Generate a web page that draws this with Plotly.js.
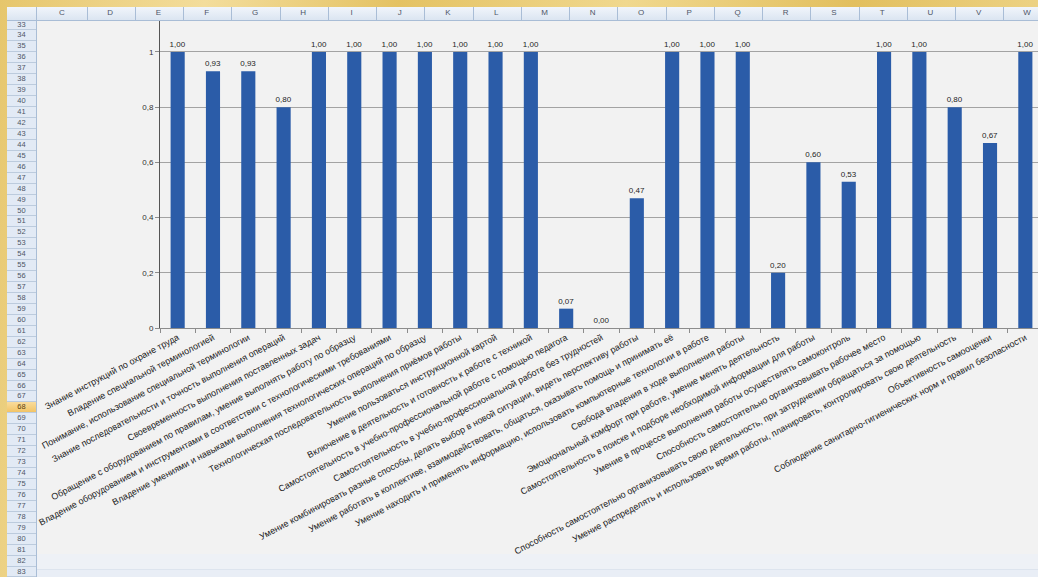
<!DOCTYPE html>
<html>
<head>
<meta charset="utf-8">
<script src="https://cdn.plot.ly/plotly-3.0.1.min.js"></script>
<style>
  html, body { margin:0; padding:0; width:1038px; height:577px; overflow:hidden; }
  body { position:relative; font-family:"Liberation Sans", Arial, sans-serif;
    background: linear-gradient(100deg, #e6c66c 0%, #f3dd9c 18%, #e4c263 35%, #f0d88e 55%, #e2bf5e 75%, #f2dc98 100%); }
  #chartbg { position:absolute; left:37px; top:21px; width:1001px; height:533px; background:#f2f2f2; z-index:0; }
  #cellsbg { position:absolute; left:37px; top:554px; width:1001px; height:23px; background:#eef1f6; z-index:0; }
  #cellsbg2 { position:absolute; left:37px; top:569px; width:1001px; height:8px; background:#e9eef6; border-top:1px solid #dde4ee; z-index:0; }
  #plot { position:absolute; left:37px; top:21px; width:1020px; height:600px; z-index:1; }
  #colhdr { position:absolute; left:7px; top:7px; width:1031px; height:14px; z-index:3;
    background: linear-gradient(#f1f5fb, #dbe5f1); border-bottom:1px solid #a9bdd6; box-sizing:border-box; }
  #rowhdr { position:absolute; left:7px; top:21px; width:30px; height:556px; z-index:3;
    background:#e2eaf5; border-right:1px solid #a9bdd6; box-sizing:border-box; }
  .colsep { position:absolute; top:0; width:1px; height:13px; background:#a9bdd6; }
  .collbl { position:absolute; top:1px; width:40px; margin-left:-20px; text-align:center; font-size:8px; color:#4e5566; }
  .rowcell { position:absolute; left:0; width:29px; height:10px; border-bottom:1px solid #bccbdd; box-sizing:border-box;
    font-size:7.5px; line-height:10px; text-align:center; color:#4e5566; }
  .rowsel { background:linear-gradient(#f9dc9c, #f2c466); color:#5a4210; }
</style>
</head>
<body>
<div id="chartbg"></div>
<div id="cellsbg"></div>
<div id="cellsbg2"></div>
<div id="plot"></div>
<div id="colhdr"></div>
<div id="rowhdr"></div>
<script>
// ---- chart data ----
const categories = [
  "Знание инструкций по охране труда",
  "Владение специальной терминологией",
  "Понимание, использование специальной терминологии",
  "Знание последовательности и точность выполнения операций",
  "Своевременность выполнения поставленных задач",
  "Обращение с оборудованием по правилам, умение выполнять работу по образцу",
  "Владение оборудованием и инструментами в соответствии с технологическими требованиями",
  "Владение умениями и навыками выполнения технологических операций по образцу",
  "Технологическая последовательность выполнения приёмов работы",
  "Умение пользоваться инструкционной картой",
  "Включение в деятельность и готовность к работе с техникой",
  "Самостоятельность в учебно-профессиональной работе с помощью педагога",
  "Самостоятельность в учебно-профессиональной работе без трудностей",
  "Умение комбинировать разные способы, делать выбор в новой ситуации, видеть перспективу работы",
  "Умение работать в коллективе, взаимодействовать, общаться, оказывать помощь и принимать её",
  "Умение находить и применять информацию, использовать компьютерные технологии в работе",
  "Свобода владения в ходе выполнения работы",
  "Эмоциональный комфорт при работе, умение менять деятельность",
  "Самостоятельность в поиске и подборе необходимой информации для работы",
  "Умение в процессе выполнения работы осуществлять самоконтроль",
  "Способность самостоятельно организовывать рабочее место",
  "Способность самостоятельно организовывать свою деятельность, при затруднении обращаться за помощью",
  "Умение распределять и использовать время работы, планировать, контролировать свою деятельность",
  "Объективность самооценки",
  "Соблюдение санитарно-гигиенических норм и правил безопасности"
];
const values = [1.00, 0.93, 0.93, 0.80, 1.00, 1.00, 1.00, 1.00, 1.00, 1.00, 1.00,
                0.07, 0.00, 0.47, 1.00, 1.00, 1.00, 0.20, 0.60, 0.53, 1.00, 1.00,
                0.80, 0.67, 1.00];
const yTicks = [0, 0.2, 0.4, 0.6, 0.8, 1];

// ---- spreadsheet frame (decoration) ----
const colLetters = ["C","D","E","F","G","H","I","J","K","L","M","N","O","P","Q","R","S","T","U","V","W"];
const rowNumbers = [];
for (let r = 33; r <= 83; r++) rowNumbers.push(r);

const colhdr = document.getElementById('colhdr');
colLetters.forEach(function(c, k) {
  const center = 62 + 48.25 * k - 7;
  const l = document.createElement('div');
  l.className = 'collbl'; l.style.left = center + 'px'; l.textContent = c;
  colhdr.appendChild(l);
  const s = document.createElement('div');
  s.className = 'colsep'; s.style.left = (center + 24.5) + 'px';
  colhdr.appendChild(s);
});
const cs = document.createElement('div');
cs.className = 'colsep'; cs.style.left = '29px'; colhdr.appendChild(cs);

const rowhdr = document.getElementById('rowhdr');
rowNumbers.forEach(function(r, i) {
  const d = document.createElement('div');
  d.className = 'rowcell' + (r === 68 ? ' rowsel' : '');
  d.style.top = (25 + i * 10.94 - 5.47 - 21) + 'px';
  d.style.height = '10.94px';
  d.textContent = r;
  rowhdr.appendChild(d);
});

// ---- plot ----
const trace = {
  type: 'bar',
  x: categories,
  y: values,
  marker: { color: '#2b5ca8' },
  width: 0.4,
  texttemplate: '%{y:.2f}',
  textposition: 'outside',
  constraintext: 'none',
  cliponaxis: false,
  textfont: { family: 'Liberation Sans, Arial, sans-serif', size: 8, color: '#1e1e1e' },
  hoverinfo: 'skip'
};

const layout = {
  width: 1020,
  height: 600,
  margin: { l: 123, r: 14, t: 0, b: 293 },
  paper_bgcolor: 'rgba(0,0,0,0)',
  plot_bgcolor: 'rgba(0,0,0,0)',
  separators: ', ',
  showlegend: false,
  font: { family: 'Liberation Sans, Arial, sans-serif', color: '#333333' },
  bargap: 0.6,
  xaxis: {
    type: 'category',
    tickmode: 'linear', tick0: 0, dtick: 1,
    tickangle: -28,
    tickson: 'boundaries',
    ticks: 'outside', ticklen: 4, tickcolor: '#8c8c8c',
    showline: true, linecolor: '#8c8c8c', linewidth: 1,
    showgrid: false, zeroline: false,
    tickfont: { size: 9, color: '#222222' },
    automargin: false,
    range: [-0.5, 24.5]
  },
  yaxis: {
    range: [0, 1.112],
    tickmode: 'array', tickvals: yTicks,
    showgrid: true, gridcolor: '#a3a3a3', gridwidth: 1,
    zeroline: false,
    showline: true, linecolor: '#555555', linewidth: 1,
    ticks: 'outside', ticklen: 4, tickcolor: '#8c8c8c',
    tickfont: { size: 8, color: '#333333' },
    automargin: false
  }
};

Plotly.newPlot('plot', [trace], layout, { displayModeBar: false, staticPlot: true });
</script>
</body>
</html>
